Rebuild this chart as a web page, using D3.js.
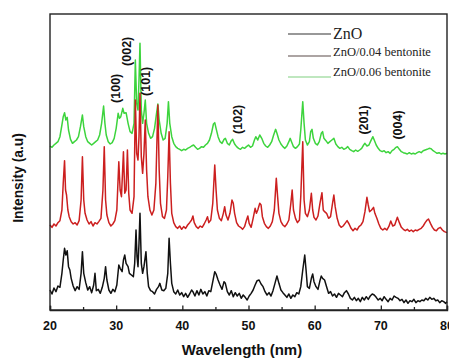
<!DOCTYPE html>
<html><head><meta charset="utf-8">
<script src="https://cdn.jsdelivr.net/npm/d3@7/dist/d3.min.js"></script>
<style>body{margin:0;background:#fff;overflow:hidden}svg{display:block}</style>
</head><body><svg id="c" width="449" height="358"></svg>
<script>
const seriesNames = ["ZnO", "ZnO/0.04 bentonite", "ZnO/0.06 bentonite"];
const xTicks = [20, 30, 40, 50, 60, 70, 80];
const peakLabels = ["(100)", "(002)", "(101)", "(102)", "(201)", "(004)"];
const peakLabelAngles = [29.9, 31.6, 34.5, 48.4, 67.4, 72.5];
const peakLabelLevels = [665, 776, 686, 572, 570, 555];

const zno = [[20,60],[20.3,48],[20.6,66],[20.9,55],[21.2,72],[21.5,68],[21.8,110],[22.0,150],[22.2,185],[22.4,165],[22.6,178],[22.8,130],[23.0,120],[23.2,95],[23.5,72],[23.8,58],[24.1,70],[24.4,62],[24.7,110],[24.9,175],[25.1,110],[25.4,82],[25.7,60],[26.0,70],[26.3,52],[26.6,75],[26.8,110],[27.0,58],[27.3,62],[27.6,50],[27.9,68],[28.2,95],[28.4,130],[28.6,90],[28.9,60],[29.2,50],[29.5,62],[29.8,55],[30.1,75],[30.4,135],[30.6,125],[30.9,115],[31.1,150],[31.3,165],[31.5,140],[31.8,130],[32.0,110],[32.3,105],[32.6,100],[32.8,140],[33.0,240],[33.15,160],[33.3,130],[33.45,200],[33.6,290],[33.8,140],[34.0,110],[34.2,130],[34.5,175],[34.7,110],[34.9,70],[35.2,58],[35.5,55],[35.8,48],[36.1,62],[36.4,70],[36.6,80],[36.9,60],[37.2,58],[37.5,65],[37.8,110],[38.0,215],[38.2,140],[38.4,80],[38.7,55],[39.0,48],[39.3,60],[39.6,45],[39.9,52],[40.2,40],[40.5,50],[40.8,38],[41.1,48],[41.4,60],[41.6,55],[41.9,42],[42.2,58],[42.5,45],[42.8,62],[43.1,48],[43.4,55],[43.7,42],[44.0,58],[44.3,55],[44.6,85],[44.9,115],[45.1,108],[45.4,90],[45.7,75],[46.0,62],[46.3,85],[46.5,80],[46.8,55],[47.1,45],[47.4,58],[47.7,40],[48.0,52],[48.3,42],[48.6,50],[48.9,35],[49.2,45],[49.5,38],[49.8,30],[50.1,42],[50.4,50],[50.7,60],[51.0,75],[51.3,88],[51.6,90],[51.9,78],[52.2,70],[52.5,55],[52.8,45],[53.1,52],[53.4,42],[53.7,58],[54.0,80],[54.3,102],[54.6,80],[54.9,60],[55.2,52],[55.5,45],[55.8,38],[56.1,48],[56.4,35],[56.7,45],[57.0,40],[57.3,52],[57.6,48],[57.9,70],[58.2,120],[58.5,165],[58.7,120],[58.9,70],[59.2,65],[59.5,95],[59.7,108],[59.9,85],[60.2,70],[60.5,62],[60.8,88],[61.0,102],[61.2,95],[61.5,90],[61.8,70],[62.1,50],[62.4,55],[62.7,42],[63.0,48],[63.3,38],[63.6,50],[63.9,45],[64.2,40],[64.5,52],[64.8,58],[65.1,48],[65.4,35],[65.7,30],[66.0,38],[66.3,28],[66.6,35],[66.9,25],[67.2,38],[67.5,30],[67.8,40],[68.1,32],[68.4,42],[68.7,48],[69.0,45],[69.3,38],[69.6,30],[69.9,35],[70.2,28],[70.5,40],[70.8,32],[71.1,25],[71.4,35],[71.7,30],[72.0,42],[72.3,38],[72.6,35],[72.9,28],[73.2,32],[73.5,22],[73.8,30],[74.1,20],[74.4,28],[74.7,25],[75.0,32],[75.3,22],[75.6,28],[75.9,25],[76.2,30],[76.5,28],[76.8,35],[77.1,30],[77.4,38],[77.7,32],[78.0,35],[78.3,28],[78.6,30],[78.9,22],[79.2,28],[79.5,25],[79.8,20],[80,25]];

const znoBent004 = [[20,255],[20.3,248],[20.6,258],[20.9,252],[21.2,262],[21.5,268],[21.8,300],[22.0,380],[22.2,448],[22.35,360],[22.5,345],[22.7,300],[22.9,280],[23.2,265],[23.5,258],[23.8,262],[24.1,255],[24.4,268],[24.7,330],[24.9,460],[25.1,330],[25.3,290],[25.6,270],[25.9,258],[26.2,265],[26.5,252],[26.8,262],[27.1,258],[27.4,266],[27.7,275],[28.0,360],[28.2,490],[28.4,330],[28.6,285],[28.9,262],[29.2,252],[29.5,258],[29.8,268],[30.1,300],[30.4,445],[30.6,360],[30.8,340],[31.1,475],[31.3,350],[31.5,360],[31.7,480],[31.9,350],[32.1,300],[32.4,290],[32.7,340],[32.9,630],[33.1,470],[33.3,450],[33.45,520],[33.6,650],[33.8,460],[34.0,410],[34.2,470],[34.4,570],[34.6,420],[34.8,340],[35.1,300],[35.4,285],[35.7,300],[36.0,380],[36.3,615],[36.5,420],[36.7,320],[37.0,280],[37.3,275],[37.6,300],[37.8,400],[38.0,535],[38.2,380],[38.4,290],[38.7,262],[39.0,250],[39.3,245],[39.6,252],[39.9,242],[40.2,250],[40.5,245],[40.8,255],[41.1,262],[41.4,270],[41.6,282],[41.8,262],[42.1,250],[42.4,245],[42.7,252],[43.0,248],[43.3,258],[43.6,270],[43.8,280],[44.0,262],[44.3,270],[44.6,320],[44.9,435],[45.1,360],[45.3,300],[45.6,275],[45.9,268],[46.2,290],[46.4,310],[46.6,285],[46.9,270],[47.2,290],[47.5,330],[47.7,320],[47.9,290],[48.2,262],[48.5,252],[48.8,248],[49.1,242],[49.4,250],[49.7,270],[49.9,282],[50.1,260],[50.4,248],[50.7,275],[51.0,305],[51.2,290],[51.4,300],[51.7,320],[51.9,315],[52.1,280],[52.4,260],[52.7,250],[53.0,245],[53.3,252],[53.6,265],[53.9,300],[54.2,395],[54.4,340],[54.6,290],[54.9,265],[55.2,255],[55.5,250],[55.8,258],[56.1,270],[56.4,320],[56.6,360],[56.8,300],[57.1,275],[57.4,262],[57.7,270],[57.9,340],[58.2,505],[58.4,330],[58.6,290],[58.9,280],[59.2,300],[59.5,350],[59.7,300],[59.9,278],[60.2,270],[60.5,282],[60.8,320],[61.1,352],[61.3,300],[61.5,295],[61.8,290],[62.1,275],[62.4,280],[62.7,320],[62.9,345],[63.1,310],[63.4,275],[63.7,255],[64.0,248],[64.3,252],[64.6,260],[64.9,268],[65.2,258],[65.5,245],[65.8,238],[66.1,245],[66.4,240],[66.7,250],[67.0,255],[67.3,265],[67.6,295],[67.9,338],[68.1,315],[68.3,295],[68.6,300],[68.9,308],[69.1,290],[69.4,275],[69.7,258],[70.0,245],[70.3,240],[70.6,245],[70.9,240],[71.2,250],[71.5,267],[71.8,252],[72.1,255],[72.5,278],[72.8,262],[73.1,248],[73.4,242],[73.7,238],[74.0,242],[74.3,236],[74.6,240],[74.9,235],[75.2,240],[75.5,238],[75.8,242],[76.1,245],[76.4,252],[76.7,262],[77.0,270],[77.2,273],[77.5,260],[77.8,248],[78.1,240],[78.4,238],[78.7,245],[79.0,248],[79.3,240],[79.6,235],[80,232]];

const znoBent006 = [[20,492],[20.3,488],[20.6,495],[20.9,500],[21.2,505],[21.5,520],[21.8,555],[22.0,580],[22.2,592],[22.4,570],[22.6,578],[22.8,540],[23.1,512],[23.4,500],[23.7,505],[24.0,510],[24.3,520],[24.6,550],[24.9,585],[25.1,550],[25.4,520],[25.7,505],[26.0,500],[26.3,495],[26.6,500],[26.9,505],[27.2,510],[27.5,525],[27.8,560],[28.1,612],[28.3,560],[28.5,525],[28.8,505],[29.1,498],[29.4,502],[29.7,515],[30.0,545],[30.3,590],[30.5,575],[30.7,580],[31.0,605],[31.2,590],[31.5,592],[31.8,560],[32.1,535],[32.4,530],[32.7,560],[32.9,750],[33.1,620],[33.3,600],[33.45,690],[33.6,800],[33.8,600],[34.0,560],[34.2,590],[34.4,630],[34.6,560],[34.9,530],[35.2,515],[35.5,520],[35.8,545],[36.1,590],[36.3,618],[36.5,570],[36.8,530],[37.1,510],[37.4,515],[37.7,560],[37.9,625],[38.1,560],[38.4,520],[38.7,500],[39.0,490],[39.3,485],[39.6,482],[39.9,478],[40.2,482],[40.5,480],[40.8,485],[41.1,488],[41.4,492],[41.7,495],[42.0,488],[42.3,482],[42.6,485],[42.9,490],[43.2,488],[43.5,495],[43.8,500],[44.1,510],[44.4,530],[44.7,558],[44.9,562],[45.1,545],[45.4,520],[45.7,505],[46.0,500],[46.3,512],[46.5,515],[46.8,500],[47.1,495],[47.4,508],[47.6,512],[47.9,498],[48.2,490],[48.5,485],[48.8,482],[49.1,488],[49.4,485],[49.7,490],[50.0,495],[50.3,488],[50.6,492],[50.9,510],[51.1,520],[51.4,510],[51.7,525],[52.0,515],[52.3,500],[52.6,492],[52.9,488],[53.2,495],[53.5,505],[53.8,525],[54.1,542],[54.3,530],[54.6,510],[54.9,498],[55.2,490],[55.5,485],[55.8,492],[56.1,505],[56.3,515],[56.5,505],[56.8,490],[57.1,485],[57.4,490],[57.7,498],[57.9,540],[58.2,625],[58.4,560],[58.6,510],[58.9,495],[59.2,505],[59.4,535],[59.6,542],[59.8,515],[60.1,500],[60.4,495],[60.7,505],[61.0,530],[61.2,535],[61.4,515],[61.7,508],[62.0,500],[62.3,505],[62.6,510],[62.9,515],[63.2,498],[63.5,490],[63.8,485],[64.1,488],[64.4,482],[64.7,485],[65.0,490],[65.3,482],[65.6,478],[65.9,475],[66.2,480],[66.5,476],[66.8,480],[67.1,485],[67.4,495],[67.6,500],[67.9,492],[68.2,495],[68.5,508],[68.8,520],[69.0,510],[69.3,495],[69.6,485],[69.9,478],[70.2,475],[70.5,478],[70.8,472],[71.1,475],[71.4,470],[71.7,478],[72.0,482],[72.3,488],[72.5,490],[72.8,482],[73.1,475],[73.4,472],[73.7,470],[74.0,468],[74.3,472],[74.6,468],[74.9,470],[75.2,468],[75.5,472],[75.8,475],[76.1,472],[76.4,478],[76.7,480],[77.0,482],[77.3,485],[77.6,484],[77.9,478],[78.2,474],[78.5,470],[78.8,472],[79.1,468],[79.4,470],[79.7,468],[80,470]];

const svg = d3.select("#c");
const m = {l: 50, r: 447, t: 14, b: 310};
const x = d3.scaleLinear().domain([20, 80]).range([m.l, m.r]);
const y = d3.scaleLinear().domain([0, 888]).range([m.b, m.t]);

const colors = ["#111111", "#cc1f1f", "#3dd43d"];
const legendColors = ["#333333", "#5a4a48", "#80d080"];
const data = [zno, znoBent004, znoBent006];

const line = d3.line().x(d => x(d[0])).y(d => y(d[1]));
const plot = svg.append("g");
[2, 1, 0].forEach(i => {
  plot.append("path").datum(data[i]).attr("d", line)
    .attr("fill", "none").attr("stroke", colors[i]).attr("stroke-width", 1.5)
    .attr("stroke-linejoin", "round");
});

// frame
svg.append("rect").attr("x", m.l).attr("y", m.t).attr("width", m.r - m.l).attr("height", m.b - m.t)
  .attr("fill", "none").attr("stroke", "#222").attr("stroke-width", 1.4);

// bottom axis, ticks inward
const ax = svg.append("g").attr("transform", `translate(0,${m.b})`)
  .call(d3.axisBottom(x).tickValues(d3.range(20, 81, 5)).tickSize(-4).tickFormat(""));
ax.select(".domain").attr("stroke", "#222").attr("stroke-width", 1.4);
ax.selectAll(".tick line").attr("stroke", "#222").attr("stroke-width", 1.3)
  .attr("y2", d => (d % 10 === 0 ? -4.5 : -3));
svg.append("g").selectAll("text").data(xTicks).join("text")
  .attr("x", d => x(d)).attr("y", 330).attr("text-anchor", "middle")
  .attr("font-family", "Liberation Sans, Arial, sans-serif").attr("font-weight", "bold")
  .attr("font-size", 12.5).attr("fill", "#111").text(d => d);

// axis titles
svg.append("text").attr("x", 242).attr("y", 355).attr("text-anchor", "middle")
  .attr("font-family", "Liberation Sans, Arial, sans-serif").attr("font-weight", "bold")
  .attr("font-size", 15).attr("fill", "#111").text("Wavelength (nm)");
svg.append("text").attr("transform", "translate(23,178) rotate(-90)").attr("text-anchor", "middle")
  .attr("font-family", "Liberation Sans, Arial, sans-serif").attr("font-weight", "bold")
  .attr("font-size", 13.8).attr("fill", "#111").text("Intensity (a.u)");

// peak labels
svg.append("g").selectAll("text").data(peakLabels).join("text")
  .attr("transform", (d, i) => `translate(${x(peakLabelAngles[i]) + 4.5},${y(peakLabelLevels[i])}) rotate(-90)`)
  .attr("text-anchor", "middle")
  .attr("font-family", "Liberation Sans, Arial, sans-serif").attr("font-weight", "bold")
  .attr("font-size", 12.5).attr("fill", "#111").text(d => d);

// legend
const lg = svg.append("g");
const legY = [34, 56, 77];
const legTY = [39, 56, 76];
const legFS = [16, 12.5, 12.5];
seriesNames.forEach((n, i) => {
  lg.append("line").attr("x1", 288).attr("x2", 331).attr("y1", legY[i]).attr("y2", legY[i])
    .attr("stroke", legendColors[i]).attr("stroke-width", 1.2);
  lg.append("text").attr("x", 333).attr("y", legTY[i])
    .attr("font-family", "Liberation Serif, Times New Roman, serif")
    .attr("font-size", legFS[i]).attr("fill", "#222").text(n);
});
</script></body></html>
